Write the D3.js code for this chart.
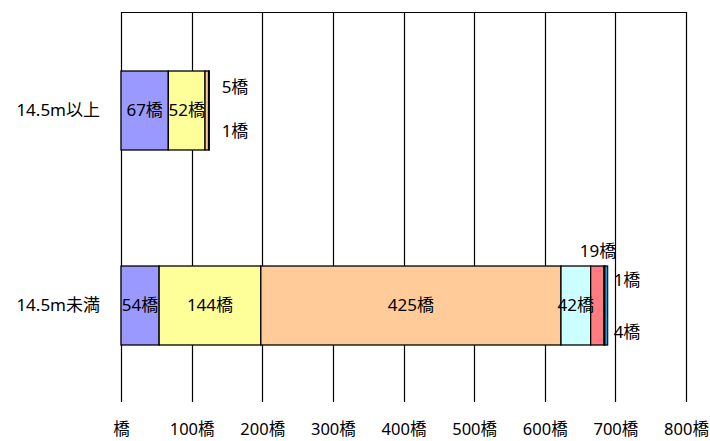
<!DOCTYPE html>
<html>
<head>
<meta charset="utf-8">
<script src="https://cdn.jsdelivr.net/npm/d3@7"></script>
<style>
  body { margin: 0; background: #fff; }
  text { font-family: "Noto Sans", "Noto Sans CJK JP", sans-serif; fill: #000; }
</style>
</head>
<body>
<div class="chart"></div>
<script>
// categories (top to bottom)
let categories = ["14.5m以上", "14.5m未満"]

// stacked series values, one entry per category
let s1 = [67, 54]
let s2 = [52, 144]
let s3 = [5, 425]
let s4 = [1, 42]
let s5 = [0, 19]
let s6 = [0, 1]
let s7 = [0, 4]
let seriesColors = ["#9999FF", "#FFFF99", "#FFCC99", "#CCFFFF", "#FF7C80", "#1F3864", "#00B0F0"]

let ticks = [0, 100, 200, 300, 400, 500, 600, 700, 800]

let allSeries = [s1, s2, s3, s4, s5, s6, s7]

let width = 710, height = 441
let plot = {left: 121, right: 686, top: 12, bottom: 402}

let svg = d3.select(".chart").append("svg")
    .attr("width", width)
    .attr("height", height)

let x = d3.scaleLinear()
    .domain([0, 800])
    .range([plot.left, plot.right])

let y = d3.scaleBand()
    .domain(categories)
    .range([plot.top + 1, plot.bottom + 1])
    .paddingInner(0.595)
    .paddingOuter(0.2975)

// gridlines
svg.append("g")
    .selectAll("line")
    .data(ticks)
    .enter().append("line")
    .attr("x1", d => Math.round(x(d)) + 0.5)
    .attr("x2", d => Math.round(x(d)) + 0.5)
    .attr("y1", plot.top)
    .attr("y2", plot.bottom)
    .attr("stroke", "#000")
    .attr("stroke-width", 1.2)

// top border
svg.append("line")
    .attr("x1", Math.round(x(0)))
    .attr("x2", Math.round(x(800)) + 1)
    .attr("y1", plot.top + 0.5)
    .attr("y2", plot.top + 0.5)
    .attr("stroke", "#000")
    .attr("stroke-width", 1.2)

// x axis labels
let xAxis = d3.axisBottom(x)
    .tickValues(ticks)
    .tickSize(0)
    .tickFormat(d => d === 0 ? "橋" : d + "橋")
svg.append("g")
    .attr("transform", "translate(0," + plot.bottom + ")")
    .call(xAxis)
    .call(g => g.select(".domain").remove())
    .selectAll("text")
    .attr("y", 27)
    .attr("dy", "0.35em")
    .style("font-size", "16.5px")

// category labels
let yAxis = d3.axisLeft(y).tickSize(0).tickPadding(21)
svg.append("g")
    .attr("transform", "translate(" + plot.left + ",0)")
    .call(yAxis)
    .call(g => g.select(".domain").remove())
    .selectAll("text")
    .style("font-size", "17px")

// stacked bars
let stacks = categories.map(function (c, i) {
    let start = 0
    return allSeries.map(function (s, j) {
        let seg = {cat: c, v: s[i], x0: start, x1: start + s[i], color: seriesColors[j], idx: j}
        start += s[i]
        return seg
    }).filter(d => d.v > 0)
})

let segs = stacks.flat()

svg.append("g")
    .selectAll("rect")
    .data(segs)
    .enter().append("rect")
    .attr("x", d => x(d.x0))
    .attr("y", d => y(d.cat))
    .attr("width", d => x(d.x1) - x(d.x0))
    .attr("height", y.bandwidth())
    .attr("fill", d => d.color)
    .attr("stroke", "#000")
    .attr("stroke-width", 1.3)

// labels: big segments inside, tiny ones pushed outside
let labelPos = {
    "14.5m以上": {2: [235, -23], 3: [235, 21]},
    "14.5m未満": {4: [598, -54], 5: [627, -25], 6: [627, 27]}
}

svg.append("g")
    .selectAll("text")
    .data(segs)
    .enter().append("text")
    .attr("x", function (d) {
        let p = labelPos[d.cat][d.idx]
        return p ? p[0] : (x(d.x0) + x(d.x1)) / 2
    })
    .attr("y", function (d) {
        let p = labelPos[d.cat][d.idx]
        return y(d.cat) + y.bandwidth() / 2 + (p ? p[1] : 0)
    })
    .attr("dy", "0.35em")
    .attr("text-anchor", "middle")
    .style("font-size", "17px")
    .text(d => d.v + "橋")
</script>
</body>
</html>
